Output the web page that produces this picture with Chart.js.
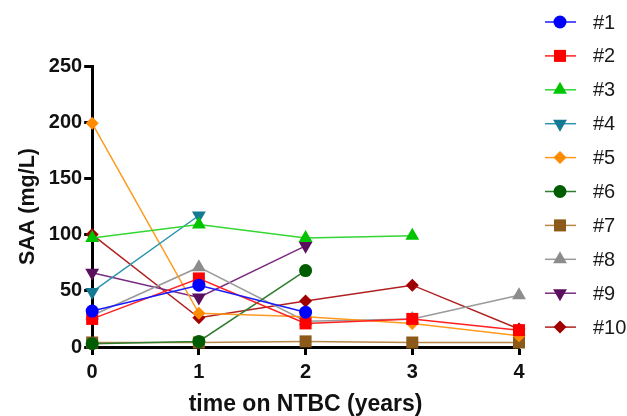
<!DOCTYPE html>
<html>
<head>
<meta charset="utf-8">
<script src="https://cdn.jsdelivr.net/npm/chart.js@4"></script>
<style>
  html, body { margin: 0; padding: 0; background: #fff; }
  #wrap { width: 627px; height: 416px; }
</style>
</head>
<body>
<div id="wrap"><canvas id="saa-chart" width="627" height="416"></canvas></div>
<script>
// years on NTBC
const years = [0, 1, 2, 3, 4];

// SAA (mg/L) per patient, null where no sample
const p1 = [32, 55, 31, null, null];
const p2 = [25, 61, 21, 25, 15];
const p3 = [97, 109, 97, 99, null];
const p4 = [49, 117, null, null, null];
const p5 = [199, 30, 27, 21, 10];
const p6 = [3, 5, 68, null, null];
const p7 = [4, 4, 5, 4, 4];
const p8 = [28, 71, 23, 25, 46];
const p9 = [66, 44, 90, null, null];
const p10 = [100, 26, 41, 55, 16];

const labels = ['#1', '#2', '#3', '#4', '#5', '#6', '#7', '#8', '#9', '#10'];
const series = [p1, p2, p3, p4, p5, p6, p7, p8, p9, p10];

const lineColors = ['#1a1aff', '#ff2020', '#33d633', '#2a95ad', '#ff9a1f', '#2e7d2e', '#b8884a', '#9a9a9a', '#7a2a80', '#b02020'];
const markColors = ['#0000ff', '#ff0000', '#00c400', '#147a94', '#ff8c00', '#005c00', '#8b5a1b', '#8c8c8c', '#5a0f5e', '#a00000'];
const styles = ['circle', 'rect', 'triangle', 'triangle', 'rectRot', 'circle', 'rect', 'triangle', 'triangle', 'rectRot'];
const rotations = [0, 0, 0, 180, 0, 0, 0, 0, 180, 0];
const radii = [6.5, 8.5, 8, 8, 6.5, 6.5, 8.5, 8, 8, 6.5];

function toPoints(vals) {
    const pts = [];
    vals.forEach((v, i) => {
        if (v !== null) pts.push({ x: years[i], y: v });
    });
    return pts;
}

const datasets = series.map((vals, i) => ({
    label: labels[i],
    data: toPoints(vals),
    borderColor: lineColors[i],
    borderWidth: 1.5,
    backgroundColor: markColors[i],
    pointBackgroundColor: markColors[i],
    pointBorderColor: markColors[i],
    pointBorderWidth: 0,
    pointStyle: styles[i],
    pointRotation: rotations[i],
    pointRadius: radii[i],
    tension: 0,
    clip: false
}));

// legend on the right: line through a marker, then label
const sideLegend = {
    id: 'sideLegend',
    afterDraw(chart) {
        const ctx = chart.ctx;
        ctx.save();
        datasets.forEach((ds, i) => {
            const y = 22 + i * 33.9;
            ctx.strokeStyle = lineColors[i];
            ctx.lineWidth = 1.5;
            ctx.beginPath();
            ctx.moveTo(545, y);
            ctx.lineTo(576, y);
            ctx.stroke();
            ctx.fillStyle = markColors[i];
            ctx.strokeStyle = markColors[i];
            ctx.lineWidth = 0;
            Chart.helpers.drawPoint(ctx, {
                pointStyle: styles[i],
                radius: radii[i],
                rotation: rotations[i],
                borderWidth: 0
            }, 560, y);
            ctx.fillStyle = '#1a1a1a';
            ctx.font = '20px Arial, "Liberation Sans", sans-serif';
            ctx.textBaseline = 'middle';
            ctx.fillText(labels[i], 593, y + 1);
        });
        ctx.restore();
    }
};

const tickFont = { family: 'Arial, "Liberation Sans", sans-serif', size: 20, weight: 'bold' };

new Chart(document.getElementById('saa-chart'), {
    type: 'line',
    data: { datasets: datasets },
    options: {
        responsive: false,
        animation: false,
        layout: { padding: { top: 66, right: 108, left: 15, bottom: 0 } },
        plugins: {
            legend: { display: false },
            tooltip: { enabled: false }
        },
        scales: {
            x: {
                type: 'linear',
                min: 0,
                max: 4,
                border: { display: true, color: '#000', width: 3 },
                grid: { drawOnChartArea: false, drawTicks: true, tickLength: 8, tickWidth: 3, tickColor: '#000' },
                ticks: { stepSize: 1, color: '#111', font: tickFont, padding: 5 },
                title: {
                    display: true, text: 'time on NTBC (years)', color: '#111',
                    font: { family: 'Arial, "Liberation Sans", sans-serif', size: 23, weight: 'bold', lineHeight: 1 },
                    padding: { top: 4, bottom: 0 }
                }
            },
            y: {
                min: 0,
                max: 250,
                border: { display: true, color: '#000', width: 3 },
                grid: { drawOnChartArea: false, drawTicks: true, tickLength: 8, tickWidth: 3, tickColor: '#000' },
                ticks: { stepSize: 50, color: '#111', font: tickFont, padding: 2 },
                title: {
                    display: true, text: 'SAA (mg/L)', color: '#111',
                    font: { family: 'Arial, "Liberation Sans", sans-serif', size: 21.5, weight: 'bold' },
                    padding: { top: 0, bottom: 6 }
                }
            }
        }
    },
    plugins: [sideLegend]
});
</script>
</body>
</html>
